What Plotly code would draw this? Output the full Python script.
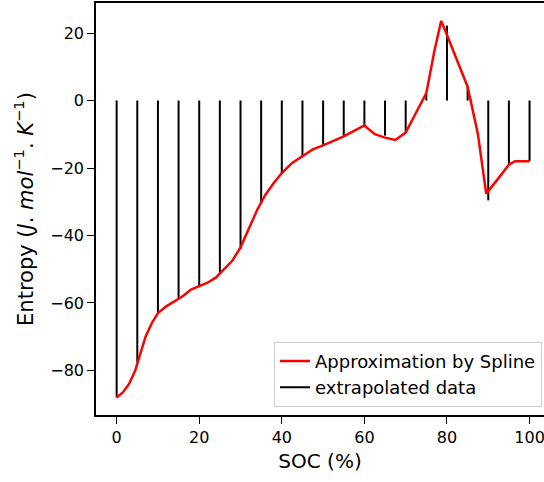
import plotly.graph_objects as go

# Stem (extrapolated data) values
soc_stem = [0, 5, 10, 15, 20, 25, 30, 35, 40, 45, 50, 55, 60, 65, 70, 75, 80, 85, 90, 95, 100]
entropy_stem = [-88, -77.5, -62.7, -58.7, -55.3, -51, -44, -30.6, -21.7, -16.8, -13.3,
                -10.4, -7.4, -10.4, -9.4, 2, 22.2, 4.4, -29.6, -19.3, -18]

# Spline approximation
soc_spline = [0, 1.5, 3, 4.5, 5.5, 7, 8.5, 10, 12, 14, 16, 18, 20, 22, 24, 26, 28, 30,
              32, 34, 36, 38, 40, 42.5, 45, 47.5, 50, 52.5, 55, 57.5, 60, 62.5, 65, 67.5,
              70, 72, 75, 77, 78.6, 80, 82.5, 85, 87.5, 89.5, 92.5, 95, 96.5, 100]
entropy_spline = [-88, -86.5, -84, -80, -76, -70, -66, -63, -61, -59.5, -58, -56, -55, -54,
                  -52.5, -50, -47.5, -43.5, -38, -32.5, -28, -24.5, -21.5, -18.5, -16.5,
                  -14.5, -13.3, -12, -10.6, -9, -7.4, -10, -11, -11.7, -9.5, -4.8, 2.2,
                  15, 23.6, 19.4, 12, 4.1, -10, -27.6, -23, -19, -18, -18]

x_ticks = [0, 20, 40, 60, 80, 100]
y_ticks = [-80, -60, -40, -20, 0, 20]

stem_x, stem_y = [], []
for xv, yv in zip(soc_stem, entropy_stem):
    stem_x += [xv, xv, None]
    stem_y += [0, yv, None]

fig = go.Figure()
fig.add_trace(go.Scatter(x=stem_x, y=stem_y, mode="lines", name="extrapolated data",
                         line=dict(color="black", width=2), legendrank=2))
fig.add_trace(go.Scatter(x=soc_spline, y=entropy_spline, mode="lines",
                         name="Approximation by Spline",
                         line=dict(color="red", width=2.5), legendrank=1))

font = "DejaVu Sans, Arial, sans-serif"
fig.update_layout(
    width=544, height=482,
    margin=dict(l=96, r=0, t=3, b=67),
    plot_bgcolor="white", paper_bgcolor="white",
    font=dict(family=font, size=16, color="black"),
    showlegend=True,
    legend=dict(x=0.9955, xanchor="right", y=0.02, yanchor="bottom",
                bordercolor="#cccccc", borderwidth=1, bgcolor="rgba(255,255,255,0.8)",
                font=dict(size=18), tracegroupgap=0),
    xaxis=dict(range=[-5, 103.5], tickvals=x_ticks, showgrid=False, zeroline=False,
               showline=True, linecolor="black", linewidth=1.5, mirror=True,
               ticks="outside", ticklen=7, tickwidth=1.2, tickcolor="black",
               ticklabeloverflow="allow",
               title=dict(text="SOC (%)", font=dict(size=20), standoff=8)),
    yaxis=dict(range=[-93.2, 28.9], tickvals=y_ticks, showgrid=False, zeroline=False,
               showline=True, linecolor="black", linewidth=1.5,
               ticks="outside", ticklen=7, tickwidth=1.2, tickcolor="black",
               tickformat="d",
               title=dict(text="Entropy (<i>J</i>. <i>mol</i><sup>−1</sup>. <i>K</i><sup>−1</sup>)",
                          font=dict(size=21), standoff=11)),
)

fig.write_html("out.html")
